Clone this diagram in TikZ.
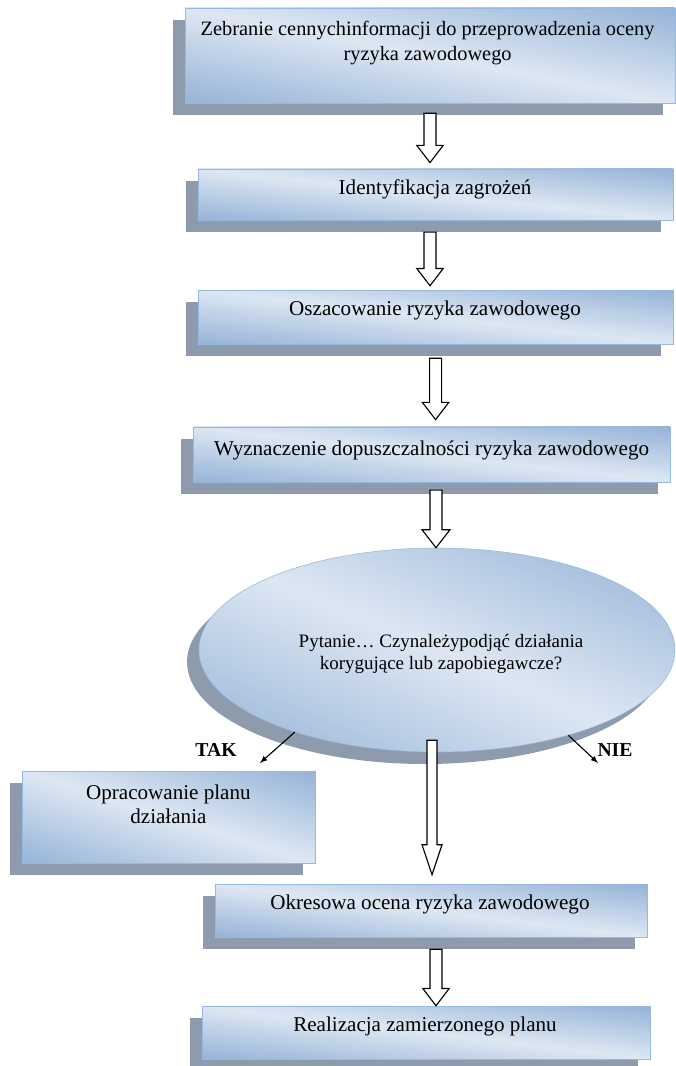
\documentclass[tikz,border=0pt]{standalone}
\usepackage{fontspec}
\setmainfont{Liberation Serif}
\usetikzlibrary{shapes,shadows,calc,arrows}

\definecolor{boxline}{RGB}{150,185,225}
\definecolor{shadowgray}{RGB}{142,155,172}

% light band from top left to bottom right, blue towards the other two corners
\pgfdeclarefunctionalshading{boxshade}{\pgfpoint{0bp}{0bp}}{\pgfpoint{100bp}{100bp}}{}{
  add 100 sub 50 div abs
  dup -0.283 mul 0.867 add exch
  dup -0.204 mul 0.906 add exch
  -0.110 mul 0.953 add
}

% hollow block arrow: [shaft half width] start, tip, head half width, head length
\newcommand{\hollowarrow}[5][0.15cm]{%
  \draw[hollow] let \p1=#2, \p2=#3 in
    (\x1-#1,\y1) -- (\x1-#1,\y2+#5) -- (\x1-#4,\y2+#5) -- (\x1,\y2)
    -- (\x1+#4,\y2+#5) -- (\x1+#1,\y2+#5) -- (\x1+#1,\y1) -- cycle;}

\begin{document}
\begin{tikzpicture}[align=center,font=\fontsize{15}{17}\selectfont,
    stepbox/.style={rectangle,draw=boxline,thin,inner sep=0pt,shade,shading=boxshade,
      drop shadow={shadow xshift=-0.3cm,shadow yshift=-0.3cm,fill=shadowgray,opacity=1}},
    steptext/.style={inner sep=0pt},
    hollow/.style={draw=black,fill=white,line width=0.8pt},
    thinarrow/.style={black,line width=0.8pt,-latex}]
      \useasboundingbox (0,0) rectangle (16.9,-26.65);

      %boxes
      \node[stepbox,minimum width=12.25cm,minimum height=2.375cm] (gather) at (10.75,-1.3875) {};
      \node[stepbox,minimum width=11.875cm,minimum height=1.275cm] (identify) at (10.89,-4.86) {};
      \node[stepbox,minimum width=11.875cm,minimum height=1.35cm] (assess) at (10.89,-7.925) {};
      \node[stepbox,minimum width=11.925cm,minimum height=1.375cm] (tolerance) at (10.79,-11.36) {};
      %question
      \node[stepbox,ellipse,minimum width=11.9cm,minimum height=5.1cm] (question) at (10.925,-16.25) {};
      \node[stepbox,minimum width=7.325cm,minimum height=2.3cm] (plan) at (4.2125,-20.425) {};
      \node[stepbox,minimum width=10.8cm,minimum height=1.325cm] (review) at (10.775,-22.7625) {};
      \node[stepbox,minimum width=11.2cm,minimum height=1.325cm] (execute) at (10.65,-25.8125) {};

      %texts
      \node[steptext,font=\fontsize{14.5}{17.8}\selectfont] (gathertext) at (10.69,-1.07)
        {Zebranie cennychinformacji do przeprowadzenia oceny\\ryzyka zawodowego};
      \node[steptext,anchor=base] (identifytext) at (10.875,-4.875) {Identyfikacja zagrożeń};
      \node[steptext,anchor=base] (assesstext) at (10.875,-7.875) {Oszacowanie ryzyka zawodowego};
      \node[steptext,anchor=base] (tolerancetext) at (10.79,-11.375) {Wyznaczenie dopuszczalności ryzyka zawodowego};
      \node[steptext,font=\fontsize{13.5}{16}\selectfont] (questiontext) at (11.025,-16.35)
        {Pytanie… Czynależypodjąć działania\\korygujące lub zapobiegawcze?};
      \node[steptext] (plantext) at (4.21,-20.1) {Opracowanie planu\\działania};
      \node[steptext,anchor=base] (reviewtext) at (10.75,-22.725) {Okresowa ocena ryzyka zawodowego};
      \node[steptext,anchor=base] (executetext) at (10.625,-25.775) {Realizacja zamierzonego planu};

      %answers
      \node[steptext,anchor=base,font=\fontsize{14}{16.5}\selectfont\bfseries] (tak) at (5.4,-18.9) {TAK};
      \node[steptext,anchor=base,font=\fontsize{14}{16.5}\selectfont\bfseries] (nie) at (15.375,-18.9) {NIE};
      \coordinate (takend) at (6.5,-19.075);
      \coordinate (nieend) at (14.95,-19.075);

      %arrows
      \hollowarrow{([yshift=-0.25cm]gather.south)}{([yshift=0.15cm]identify.north)}{0.33cm}{0.43cm}
      \hollowarrow{([xshift=-0.14cm,yshift=-0.3cm]identify.south)}{([yshift=0.1cm]assess.north)}{0.33cm}{0.43cm}
      \hollowarrow{([yshift=-0.35cm]assess.south)}{([yshift=0.175cm]tolerance.north)}{0.33cm}{0.43cm}
      \hollowarrow{([xshift=0.11cm,yshift=-0.2cm]tolerance.south)}{(question.north)}{0.35cm}{0.45cm}
      \hollowarrow[0.125cm]{([xshift=-0.125cm,yshift=0.3cm]question.south)}{([yshift=0.225cm]review.north)}{0.25cm}{0.75cm}
      \hollowarrow{([xshift=0.125cm,yshift=-0.3cm]review.south)}{(execute.north)}{0.33cm}{0.43cm}
      \draw[thinarrow] (question.-150) -- (takend);
      \draw[thinarrow] (question.-33) -- (nieend);

    \end{tikzpicture}
\end{document}
